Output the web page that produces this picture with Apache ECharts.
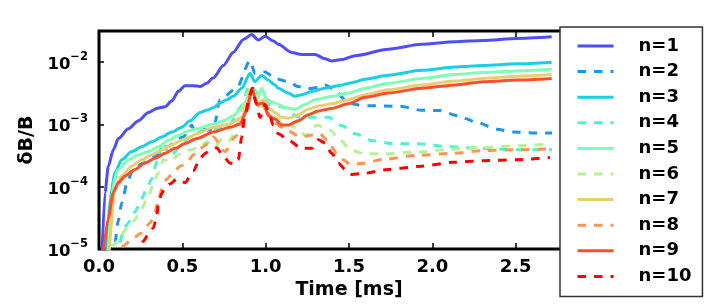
<!DOCTYPE html>
<html>
<head>
<meta charset="utf-8">
<script src="https://cdn.jsdelivr.net/npm/echarts@6/dist/echarts.min.js"></script>
<style>html,body{margin:0;padding:0;background:#fff}#c{width:707px;height:305px}</style>
</head>
<body>
<div id="c"></div>
<script>
const names = ['n=1','n=2','n=3','n=4','n=5','n=6','n=7','n=8','n=9','n=10'];
const colors = ['#4d4ffc','#1a96f2','#1acee3','#4df3ce','#80ffb4','#b3f396','#e6ce74','#ff964f','#ff4f28','#ff0000'];
const dashed = [false,true,false,true,false,true,false,true,false,true];
const xTicks = [0, 0.5, 1.0, 1.5, 2.0, 2.5, 3.0];
const yTickExps = [-5, -4, -3, -2];

const n1 = [[0.015,5e-6],[0.036,8.1e-5],[0.056,2.14e-4],[0.086,3.94e-4],[0.116,5.93e-4],[0.176,8.5e-4],[0.236,1.15e-3],[0.296,1.55e-3],[0.346,1.81e-3],[0.396,1.93e-3],[0.436,2.37e-3],[0.476,3.4e-3],[0.516,4.2e-3],[0.566,4.2e-3],[0.606,4.06e-3],[0.646,4.57e-3],[0.686,5.6e-3],[0.746,8.85e-3],[0.806,1.44e-2],[0.866,2.32e-2],[0.916,2.77e-2],[0.956,2.26e-2],[0.996,2.61e-2],[1.046,2.18e-2],[1.076,1.93e-2],[1.156,1.43e-2],[1.216,1.33e-2],[1.296,1.33e-2],[1.356,1.13e-2],[1.396,1.04e-2],[1.456,1.1e-2],[1.536,1.27e-2],[1.736,1.61e-2],[1.936,1.93e-2],[2.136,2.13e-2],[2.306,2.23e-2],[2.506,2.4e-2],[2.716,2.55e-2]];
const n2 = [[0.09,7e-6],[0.114,2.74e-5],[0.138,5.64e-5],[0.168,1.16e-4],[0.204,1.92e-4],[0.264,2.38e-4],[0.324,3.07e-4],[0.366,3.42e-4],[0.408,4.4e-4],[0.504,6.31e-4],[0.558,9.7e-4],[0.566,8.5e-4],[0.686,8.1e-4],[0.726,2.5e-3],[0.826,3.82e-3],[0.906,1.06e-2],[0.936,6.56e-3],[0.996,6.97e-3],[1.056,5.48e-3],[1.136,4.86e-3],[1.196,4.06e-3],[1.246,3.73e-3],[1.316,3.92e-3],[1.356,4.31e-3],[1.416,3.6e-3],[1.476,2.5e-3],[1.536,2.09e-3],[1.608,2.0e-3],[1.806,1.96e-3],[1.936,1.69e-3],[2.046,1.67e-3],[2.148,1.39e-3],[2.268,1.08e-3],[2.388,8.4e-4],[2.484,7.55e-4],[2.628,7.28e-4],[2.718,7.28e-4]];
const n3 = [[0.045,8e-6],[0.066,6.44e-5],[0.096,1.68e-4],[0.136,2.72e-4],[0.196,3.67e-4],[0.256,4.4e-4],[0.316,5.26e-4],[0.376,6.3e-4],[0.436,7.55e-4],[0.496,9.04e-4],[0.546,1.15e-3],[0.606,1.55e-3],[0.646,1.69e-3],[0.686,1.86e-3],[0.726,2.22e-3],[0.766,2.5e-3],[0.806,2.83e-3],[0.856,3.82e-3],[0.906,6.56e-3],[0.936,4.86e-3],[0.976,6.17e-3],[1.016,5.15e-3],[1.056,4.3e-3],[1.076,3.82e-3],[1.136,3.19e-3],[1.176,2.83e-3],[1.216,3.0e-3],[1.276,3.39e-3],[1.356,3.82e-3],[1.436,4.2e-3],[1.516,4.69e-3],[1.596,5.34e-3],[1.736,6.17e-3],[1.936,7.39e-3],[2.136,8.35e-3],[2.306,8.85e-3],[2.506,9.4e-3],[2.716,1.0e-2]];
const n4 = [[0.10,7e-6],[0.166,2.46e-5],[0.216,3.97e-5],[0.256,6.44e-5],[0.286,9.25e-5],[0.316,1.33e-4],[0.346,2.47e-4],[0.384,5.26e-4],[0.426,3.07e-4],[0.486,4.4e-4],[0.546,6.3e-4],[0.626,8.03e-4],[0.696,8.4e-4],[0.786,1.02e-3],[0.846,1.86e-3],[0.906,4.3e-3],[0.966,2.83e-3],[1.026,2.09e-3],[1.116,1.86e-3],[1.196,1.3e-3],[1.296,1.3e-3],[1.376,1.3e-3],[1.456,9.6e-4],[1.536,7.1e-4],[1.644,5.46e-4],[1.764,4.9e-4],[1.908,4.9e-4],[2.106,4.4e-4],[2.304,4.09e-4],[2.508,3.94e-4],[2.718,3.94e-4]];
const n5 = [[0.055,8e-6],[0.086,1.17e-4],[0.116,1.9e-4],[0.176,2.72e-4],[0.236,3.26e-4],[0.296,3.67e-4],[0.356,4.4e-4],[0.416,5.6e-4],[0.476,6.7e-4],[0.546,8.03e-4],[0.586,8.5e-4],[0.686,1.02e-3],[0.746,1.15e-3],[0.806,1.38e-3],[0.856,1.86e-3],[0.916,3.4e-3],[0.946,2.37e-3],[0.976,3.82e-3],[1.006,2.5e-3],[1.056,2.22e-3],[1.116,1.86e-3],[1.176,1.75e-3],[1.236,2.09e-3],[1.296,2.5e-3],[1.396,2.83e-3],[1.496,3.19e-3],[1.596,3.82e-3],[1.736,4.57e-3],[1.936,5.48e-3],[2.136,6.33e-3],[2.306,6.81e-3],[2.506,7.23e-3],[2.716,7.66e-3]];
const n6 = [[0.065,6e-6],[0.076,1.13e-5],[0.206,2.77e-5],[0.256,4.5e-5],[0.296,7.26e-5],[0.326,1.11e-4],[0.356,1.68e-4],[0.386,2.72e-4],[0.436,2.56e-4],[0.476,3.3e-4],[0.546,3.9e-4],[0.606,4.4e-4],[0.646,5.26e-4],[0.696,4.4e-4],[0.746,6.3e-4],[0.786,5.6e-4],[0.836,1.08e-3],[0.886,3.0e-3],[0.916,4.06e-3],[0.966,2.09e-3],[1.026,1.46e-3],[1.104,1.08e-3],[1.176,9.04e-4],[1.236,6.7e-4],[1.308,9.7e-4],[1.386,8.1e-4],[1.446,5.66e-4],[1.506,3.94e-4],[1.584,3.42e-4],[1.704,3.36e-4],[1.908,3.6e-4],[2.106,3.99e-4],[2.306,4.29e-4],[2.506,4.56e-4],[2.706,4.84e-4]];
const n7 = [[0.06,8e-6],[0.096,9.25e-5],[0.136,1.49e-4],[0.196,2.14e-4],[0.256,2.72e-4],[0.316,3.26e-4],[0.376,3.9e-4],[0.436,4.68e-4],[0.496,5.6e-4],[0.546,6.3e-4],[0.586,7.1e-4],[0.686,9.04e-4],[0.786,1.02e-3],[0.856,1.3e-3],[0.916,3.56e-3],[0.956,2.22e-3],[0.986,2.5e-3],[1.026,1.75e-3],[1.056,1.55e-3],[1.096,1.3e-3],[1.136,1.26e-3],[1.196,1.43e-3],[1.256,1.75e-3],[1.316,1.98e-3],[1.396,2.15e-3],[1.496,2.5e-3],[1.596,3.0e-3],[1.736,3.6e-3],[1.936,4.3e-3],[2.136,4.97e-3],[2.306,5.48e-3],[2.506,5.96e-3],[2.716,6.33e-3]];
const n8 = [[0.11,6e-6],[0.146,1.13e-5],[0.206,1.52e-5],[0.256,1.82e-5],[0.306,2.62e-5],[0.336,3.97e-5],[0.356,6.05e-5],[0.376,9.25e-5],[0.406,1.33e-4],[0.446,1.68e-4],[0.486,2.14e-4],[0.526,2.41e-4],[0.566,3.26e-4],[0.606,4.14e-4],[0.656,4.95e-4],[0.686,6.3e-4],[0.756,3.67e-4],[0.816,6.3e-4],[0.856,9.04e-4],[0.886,1.65e-3],[0.916,3.6e-3],[0.956,1.98e-3],[1.006,1.65e-3],[1.046,1.08e-3],[1.128,8.1e-4],[1.206,6.3e-4],[1.284,6.78e-4],[1.326,7.03e-4],[1.368,5.66e-4],[1.428,3.42e-4],[1.464,2.75e-4],[1.506,2.3e-4],[1.584,2.38e-4],[1.704,2.75e-4],[1.908,3.18e-4],[2.106,3.42e-4],[2.304,3.81e-4],[2.508,3.94e-4],[2.718,4.09e-4]];
const n9 = [[0.025,8e-6],[0.056,3.13e-5],[0.086,8.17e-5],[0.116,1.17e-4],[0.156,1.49e-4],[0.216,1.9e-4],[0.276,2.41e-4],[0.336,2.88e-4],[0.396,3.45e-4],[0.456,4.14e-4],[0.516,4.95e-4],[0.586,5.93e-4],[0.686,7.55e-4],[0.786,9.04e-4],[0.846,1.02e-3],[0.886,1.65e-3],[0.918,3.82e-3],[0.946,2.09e-3],[0.986,2.22e-3],[1.016,1.38e-3],[1.056,1.22e-3],[1.096,9.82e-4],[1.136,9.82e-4],[1.196,1.15e-3],[1.256,1.43e-3],[1.316,1.65e-3],[1.396,1.81e-3],[1.496,2.15e-3],[1.596,2.73e-3],[1.736,3.19e-3],[1.936,3.82e-3],[2.136,4.3e-3],[2.306,4.86e-3],[2.506,5.15e-3],[2.716,5.48e-3]];
const n10 = [[0.24,7e-6],[0.264,1.33e-5],[0.296,1.72e-5],[0.326,2.19e-5],[0.346,3.32e-5],[0.356,5.38e-5],[0.376,7.71e-5],[0.396,9.8e-5],[0.426,1.11e-4],[0.466,1.33e-4],[0.516,1.17e-4],[0.566,1.79e-4],[0.606,2.85e-4],[0.636,3.42e-4],[0.666,3.9e-4],[0.706,4.25e-4],[0.746,3.07e-4],[0.786,2.41e-4],[0.816,2.3e-4],[0.836,2.72e-4],[0.856,6.3e-4],[0.876,1.46e-3],[0.906,3.0e-3],[0.922,3.82e-3],[0.942,2.22e-3],[0.966,1.3e-3],[0.996,2.09e-3],[1.016,1.65e-3],[1.046,9.7e-4],[1.076,7.1e-4],[1.136,5.6e-4],[1.216,4.14e-4],[1.276,4.14e-4],[1.316,5.66e-4],[1.356,5.08e-4],[1.396,3.45e-4],[1.436,2.41e-4],[1.476,1.9e-4],[1.518,1.58e-4],[1.578,1.63e-4],[1.736,1.9e-4],[1.936,2.14e-4],[2.124,2.47e-4],[2.304,2.62e-4],[2.506,2.72e-4],[2.706,2.96e-4]];
const seriesData = [n1,n2,n3,n4,n5,n6,n7,n8,n9,n10];

const FONT = 'DejaVu Sans';
const chart = echarts.init(document.getElementById('c'), null, {renderer:'canvas'});
const series = names.map((nm, i) => ({
  name: nm, type: 'line', data: seriesData[i], symbol: 'none', showSymbol: false,
  smooth: 0.25, smoothMonotone: 'x', clip: true, z: 2 + i * 0.01,
  lineStyle: {color: colors[i], width: 3, type: dashed[i] ? [8.5, 8] : 'solid', cap: 'butt'},
  itemStyle: {color: colors[i]},
  emphasis: {disabled: true}, animation: false
}));

chart.setOption({
  animation: false,
  grid: {left: 99, right: 108, top: 31, bottom: 50, show: true, borderColor: '#000', borderWidth: 3, backgroundColor: 'rgba(0,0,0,0)'},
  legend: {
    data: names, orient: 'vertical', left: 560, top: 27,
    backgroundColor: '#fff', borderColor: '#333', borderWidth: 1.5, borderRadius: 0,
    padding: [10, 11, 11, 16], itemWidth: 36, itemHeight: 18, itemGap: 7.6,
    itemStyle: {opacity: 0},
    lineStyle: {width: 3},
    textStyle: {fontFamily: FONT, fontWeight: 'bold', fontSize: 18, color: '#000', padding: [0, 0, 0, 20], lineHeight: 18},
    selectedMode: false, z: 10
  },
  xAxis: [{
    type: 'value', min: 0, max: 3, interval: 0.5, position: 'bottom',
    name: 'Time [ms]', nameLocation: 'middle', nameGap: 30,
    nameTextStyle: {fontFamily: FONT, fontWeight: 'bold', fontSize: 19, color: '#000'},
    axisLine: {show: false},
    axisTick: {show: true, inside: true, length: 6, lineStyle: {color: '#000', width: 1.5}},
    axisLabel: {fontFamily: FONT, fontWeight: 'bold', fontSize: 18, color: '#000', margin: 9,
      formatter: v => xTicks.some(t => Math.abs(t - v) < 1e-9) ? v.toFixed(1) : ''},
    splitLine: {show: false}
  }, {
    type: 'value', min: 0, max: 3, interval: 0.5, position: 'top',
    axisLine: {show: false},
    axisTick: {show: true, inside: true, length: 6, lineStyle: {color: '#000', width: 1.5}},
    axisLabel: {show: false}, splitLine: {show: false}
  }],
  yAxis: [{
    type: 'log', logBase: 10, min: 1e-5, max: Math.pow(10, -1.5),
    name: 'δB/B', nameLocation: 'middle', nameGap: 56, nameRotate: 90,
    nameTextStyle: {fontFamily: FONT, fontWeight: 'bold', fontSize: 19, color: '#000'},
    axisLine: {show: false},
    axisTick: {show: true, inside: true, length: 5, lineStyle: {color: '#000', width: 1.5}},
    minorTick: {show: false},
    splitLine: {show: false},
    axisLabel: {
      margin: 11, showMaxLabel: false,
      formatter: function (v) {
        const e = Math.log10(v); const r = Math.round(e);
        if (Math.abs(e - r) > 1e-6 || yTickExps.indexOf(r) < 0) return '';
        return '{b|10}{s|\u2212' + (-r) + '}';
      },
      rich: {
        b: {fontFamily: FONT, fontWeight: 'bold', fontSize: 16.5, color: '#000', lineHeight: 22, verticalAlign: 'bottom'},
        s: {fontFamily: FONT, fontWeight: 'bold', fontSize: 11.5, color: '#000', lineHeight: 12, verticalAlign: 'top'}
      }
    }
  }],
  series: series
});
</script>
</body>
</html>
